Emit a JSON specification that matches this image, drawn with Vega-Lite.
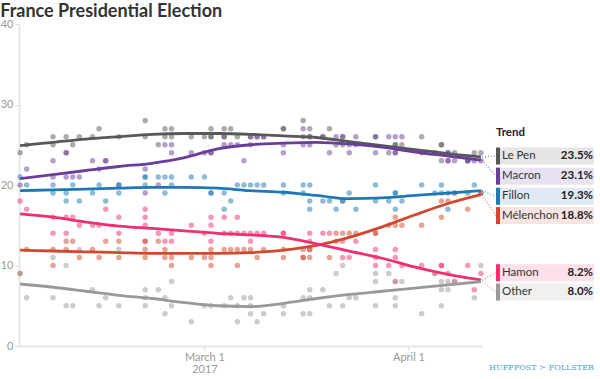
{
  "$schema": "https://vega.github.io/schema/vega-lite/v6.json",
  "padding": {"left": 0, "top": 3, "right": 0, "bottom": 0},
  "bounds": "flush",
  "spacing": 0,
  "title": {"text": "France Presidential Election", "anchor": "start", "font": "Lato", "fontSize": 18, "fontWeight": "bold", "color": "#333333", "offset": -3, "dx": 0},
  "config": {"view": {"stroke": null}, "font": "Lato"},
  "datasets": {
    "polls": [
      {"date":"2017-02-01","candidate":"Le Pen","value":24},{"date":"2017-02-02","candidate":"Le Pen","value":25},{"date":"2017-02-06","candidate":"Le Pen","value":26},{"date":"2017-02-06","candidate":"Le Pen","value":25},{"date":"2017-02-08","candidate":"Le Pen","value":26},{"date":"2017-02-08","candidate":"Le Pen","value":24},{"date":"2017-02-09","candidate":"Le Pen","value":25},{"date":"2017-02-10","candidate":"Le Pen","value":26},{"date":"2017-02-12","candidate":"Le Pen","value":26},{"date":"2017-02-13","candidate":"Le Pen","value":27},{"date":"2017-02-16","candidate":"Le Pen","value":26},{"date":"2017-02-20","candidate":"Le Pen","value":28},{"date":"2017-02-20","candidate":"Le Pen","value":26},{"date":"2017-02-22","candidate":"Le Pen","value":25},{"date":"2017-02-23","candidate":"Le Pen","value":27},{"date":"2017-02-23","candidate":"Le Pen","value":26},{"date":"2017-02-24","candidate":"Le Pen","value":27},{"date":"2017-02-24","candidate":"Le Pen","value":26},{"date":"2017-02-27","candidate":"Le Pen","value":26},{"date":"2017-03-01","candidate":"Le Pen","value":26},{"date":"2017-03-02","candidate":"Le Pen","value":27},{"date":"2017-03-02","candidate":"Le Pen","value":26},{"date":"2017-03-02","candidate":"Le Pen","value":26},{"date":"2017-03-04","candidate":"Le Pen","value":27},{"date":"2017-03-04","candidate":"Le Pen","value":26},{"date":"2017-03-05","candidate":"Le Pen","value":27},{"date":"2017-03-06","candidate":"Le Pen","value":26},{"date":"2017-03-08","candidate":"Le Pen","value":26},{"date":"2017-03-09","candidate":"Le Pen","value":26},{"date":"2017-03-10","candidate":"Le Pen","value":26},{"date":"2017-03-13","candidate":"Le Pen","value":27},{"date":"2017-03-13","candidate":"Le Pen","value":27},{"date":"2017-03-16","candidate":"Le Pen","value":28},{"date":"2017-03-16","candidate":"Le Pen","value":26},{"date":"2017-03-17","candidate":"Le Pen","value":27},{"date":"2017-03-17","candidate":"Le Pen","value":26},{"date":"2017-03-19","candidate":"Le Pen","value":26},{"date":"2017-03-20","candidate":"Le Pen","value":27},{"date":"2017-03-21","candidate":"Le Pen","value":25},{"date":"2017-03-22","candidate":"Le Pen","value":26},{"date":"2017-03-22","candidate":"Le Pen","value":25},{"date":"2017-03-23","candidate":"Le Pen","value":25},{"date":"2017-03-24","candidate":"Le Pen","value":25},{"date":"2017-03-27","candidate":"Le Pen","value":26},{"date":"2017-03-29","candidate":"Le Pen","value":24},{"date":"2017-03-30","candidate":"Le Pen","value":25},{"date":"2017-03-30","candidate":"Le Pen","value":25},{"date":"2017-03-31","candidate":"Le Pen","value":25},{"date":"2017-04-03","candidate":"Le Pen","value":26},{"date":"2017-04-06","candidate":"Le Pen","value":25},{"date":"2017-04-06","candidate":"Le Pen","value":25},{"date":"2017-04-06","candidate":"Le Pen","value":23},{"date":"2017-04-08","candidate":"Le Pen","value":24},{"date":"2017-04-10","candidate":"Le Pen","value":23},{"date":"2017-04-11","candidate":"Le Pen","value":24},{"date":"2017-04-12","candidate":"Le Pen","value":24},
      {"date":"2017-02-01","candidate":"Macron","value":20},{"date":"2017-02-02","candidate":"Macron","value":22},{"date":"2017-02-06","candidate":"Macron","value":23},{"date":"2017-02-06","candidate":"Macron","value":21},{"date":"2017-02-08","candidate":"Macron","value":24},{"date":"2017-02-08","candidate":"Macron","value":21},{"date":"2017-02-09","candidate":"Macron","value":21},{"date":"2017-02-10","candidate":"Macron","value":21},{"date":"2017-02-12","candidate":"Macron","value":23},{"date":"2017-02-13","candidate":"Macron","value":22},{"date":"2017-02-14","candidate":"Macron","value":23},{"date":"2017-02-14","candidate":"Macron","value":23},{"date":"2017-02-16","candidate":"Macron","value":20},{"date":"2017-02-20","candidate":"Macron","value":22},{"date":"2017-02-20","candidate":"Macron","value":19},{"date":"2017-02-22","candidate":"Macron","value":20},{"date":"2017-02-23","candidate":"Macron","value":25},{"date":"2017-02-24","candidate":"Macron","value":25},{"date":"2017-02-24","candidate":"Macron","value":24},{"date":"2017-02-27","candidate":"Macron","value":24},{"date":"2017-03-01","candidate":"Macron","value":24},{"date":"2017-03-02","candidate":"Macron","value":24},{"date":"2017-03-02","candidate":"Macron","value":24},{"date":"2017-03-04","candidate":"Macron","value":26},{"date":"2017-03-04","candidate":"Macron","value":25},{"date":"2017-03-05","candidate":"Macron","value":25},{"date":"2017-03-06","candidate":"Macron","value":25},{"date":"2017-03-07","candidate":"Macron","value":23},{"date":"2017-03-08","candidate":"Macron","value":26},{"date":"2017-03-08","candidate":"Macron","value":25},{"date":"2017-03-09","candidate":"Macron","value":26},{"date":"2017-03-10","candidate":"Macron","value":26},{"date":"2017-03-13","candidate":"Macron","value":25},{"date":"2017-03-13","candidate":"Macron","value":24},{"date":"2017-03-16","candidate":"Macron","value":27},{"date":"2017-03-16","candidate":"Macron","value":25},{"date":"2017-03-17","candidate":"Macron","value":26},{"date":"2017-03-17","candidate":"Macron","value":25},{"date":"2017-03-19","candidate":"Macron","value":26},{"date":"2017-03-20","candidate":"Macron","value":24},{"date":"2017-03-21","candidate":"Macron","value":26},{"date":"2017-03-22","candidate":"Macron","value":26},{"date":"2017-03-23","candidate":"Macron","value":24},{"date":"2017-03-24","candidate":"Macron","value":26},{"date":"2017-03-27","candidate":"Macron","value":26},{"date":"2017-03-27","candidate":"Macron","value":24},{"date":"2017-03-29","candidate":"Macron","value":26},{"date":"2017-03-30","candidate":"Macron","value":26},{"date":"2017-03-30","candidate":"Macron","value":24},{"date":"2017-03-30","candidate":"Macron","value":24},{"date":"2017-03-31","candidate":"Macron","value":26},{"date":"2017-04-03","candidate":"Macron","value":24},{"date":"2017-04-05","candidate":"Macron","value":24},{"date":"2017-04-07","candidate":"Macron","value":24},{"date":"2017-04-07","candidate":"Macron","value":24},{"date":"2017-04-07","candidate":"Macron","value":23},{"date":"2017-04-07","candidate":"Macron","value":23},{"date":"2017-04-08","candidate":"Macron","value":23},{"date":"2017-04-10","candidate":"Macron","value":23},{"date":"2017-04-10","candidate":"Macron","value":23},{"date":"2017-04-11","candidate":"Macron","value":23},{"date":"2017-04-12","candidate":"Macron","value":23},
      {"date":"2017-02-01","candidate":"Fillon","value":21},{"date":"2017-02-02","candidate":"Fillon","value":20},{"date":"2017-02-06","candidate":"Fillon","value":20},{"date":"2017-02-06","candidate":"Fillon","value":19},{"date":"2017-02-08","candidate":"Fillon","value":19},{"date":"2017-02-08","candidate":"Fillon","value":18},{"date":"2017-02-09","candidate":"Fillon","value":20},{"date":"2017-02-10","candidate":"Fillon","value":18},{"date":"2017-02-12","candidate":"Fillon","value":19},{"date":"2017-02-13","candidate":"Fillon","value":20},{"date":"2017-02-14","candidate":"Fillon","value":18},{"date":"2017-02-16","candidate":"Fillon","value":20},{"date":"2017-02-16","candidate":"Fillon","value":19},{"date":"2017-02-20","candidate":"Fillon","value":21},{"date":"2017-02-20","candidate":"Fillon","value":21},{"date":"2017-02-20","candidate":"Fillon","value":20},{"date":"2017-02-22","candidate":"Fillon","value":21},{"date":"2017-02-23","candidate":"Fillon","value":21},{"date":"2017-02-23","candidate":"Fillon","value":19},{"date":"2017-02-24","candidate":"Fillon","value":21},{"date":"2017-02-24","candidate":"Fillon","value":20},{"date":"2017-02-27","candidate":"Fillon","value":21},{"date":"2017-03-01","candidate":"Fillon","value":21},{"date":"2017-03-02","candidate":"Fillon","value":19},{"date":"2017-03-02","candidate":"Fillon","value":19},{"date":"2017-03-04","candidate":"Fillon","value":19},{"date":"2017-03-04","candidate":"Fillon","value":17},{"date":"2017-03-05","candidate":"Fillon","value":18},{"date":"2017-03-06","candidate":"Fillon","value":20},{"date":"2017-03-07","candidate":"Fillon","value":20},{"date":"2017-03-08","candidate":"Fillon","value":20},{"date":"2017-03-09","candidate":"Fillon","value":20},{"date":"2017-03-10","candidate":"Fillon","value":20},{"date":"2017-03-13","candidate":"Fillon","value":20},{"date":"2017-03-13","candidate":"Fillon","value":19},{"date":"2017-03-16","candidate":"Fillon","value":20},{"date":"2017-03-16","candidate":"Fillon","value":19},{"date":"2017-03-17","candidate":"Fillon","value":20},{"date":"2017-03-17","candidate":"Fillon","value":18},{"date":"2017-03-17","candidate":"Fillon","value":17},{"date":"2017-03-19","candidate":"Fillon","value":18},{"date":"2017-03-20","candidate":"Fillon","value":18},{"date":"2017-03-21","candidate":"Fillon","value":17},{"date":"2017-03-22","candidate":"Fillon","value":18},{"date":"2017-03-22","candidate":"Fillon","value":18},{"date":"2017-03-23","candidate":"Fillon","value":19},{"date":"2017-03-24","candidate":"Fillon","value":17},{"date":"2017-03-27","candidate":"Fillon","value":20},{"date":"2017-03-27","candidate":"Fillon","value":18},{"date":"2017-03-29","candidate":"Fillon","value":18},{"date":"2017-03-30","candidate":"Fillon","value":19},{"date":"2017-03-30","candidate":"Fillon","value":19},{"date":"2017-03-30","candidate":"Fillon","value":17},{"date":"2017-03-31","candidate":"Fillon","value":18},{"date":"2017-04-03","candidate":"Fillon","value":20},{"date":"2017-04-05","candidate":"Fillon","value":19},{"date":"2017-04-06","candidate":"Fillon","value":20},{"date":"2017-04-06","candidate":"Fillon","value":19},{"date":"2017-04-07","candidate":"Fillon","value":19},{"date":"2017-04-07","candidate":"Fillon","value":17},{"date":"2017-04-08","candidate":"Fillon","value":19},{"date":"2017-04-10","candidate":"Fillon","value":19},{"date":"2017-04-11","candidate":"Fillon","value":20},{"date":"2017-04-12","candidate":"Fillon","value":19},
      {"date":"2017-02-01","candidate":"Hamon","value":18},{"date":"2017-02-02","candidate":"Hamon","value":17},{"date":"2017-02-06","candidate":"Hamon","value":16},{"date":"2017-02-06","candidate":"Hamon","value":14},{"date":"2017-02-08","candidate":"Hamon","value":16},{"date":"2017-02-08","candidate":"Hamon","value":14},{"date":"2017-02-09","candidate":"Hamon","value":16},{"date":"2017-02-10","candidate":"Hamon","value":15},{"date":"2017-02-12","candidate":"Hamon","value":15},{"date":"2017-02-13","candidate":"Hamon","value":15},{"date":"2017-02-14","candidate":"Hamon","value":17},{"date":"2017-02-16","candidate":"Hamon","value":16},{"date":"2017-02-16","candidate":"Hamon","value":14},{"date":"2017-02-20","candidate":"Hamon","value":17},{"date":"2017-02-20","candidate":"Hamon","value":16},{"date":"2017-02-20","candidate":"Hamon","value":15},{"date":"2017-02-20","candidate":"Hamon","value":13},{"date":"2017-02-22","candidate":"Hamon","value":14},{"date":"2017-02-23","candidate":"Hamon","value":13},{"date":"2017-02-24","candidate":"Hamon","value":14},{"date":"2017-02-24","candidate":"Hamon","value":13},{"date":"2017-02-27","candidate":"Hamon","value":15},{"date":"2017-03-01","candidate":"Hamon","value":14},{"date":"2017-03-02","candidate":"Hamon","value":16},{"date":"2017-03-02","candidate":"Hamon","value":15},{"date":"2017-03-02","candidate":"Hamon","value":13},{"date":"2017-03-04","candidate":"Hamon","value":16},{"date":"2017-03-04","candidate":"Hamon","value":14},{"date":"2017-03-05","candidate":"Hamon","value":14},{"date":"2017-03-06","candidate":"Hamon","value":16},{"date":"2017-03-06","candidate":"Hamon","value":14},{"date":"2017-03-07","candidate":"Hamon","value":14},{"date":"2017-03-08","candidate":"Hamon","value":14},{"date":"2017-03-08","candidate":"Hamon","value":13},{"date":"2017-03-09","candidate":"Hamon","value":14},{"date":"2017-03-10","candidate":"Hamon","value":14},{"date":"2017-03-13","candidate":"Hamon","value":14},{"date":"2017-03-13","candidate":"Hamon","value":14},{"date":"2017-03-17","candidate":"Hamon","value":14},{"date":"2017-03-17","candidate":"Hamon","value":13},{"date":"2017-03-19","candidate":"Hamon","value":14},{"date":"2017-03-20","candidate":"Hamon","value":14},{"date":"2017-03-21","candidate":"Hamon","value":13},{"date":"2017-03-22","candidate":"Hamon","value":13},{"date":"2017-03-22","candidate":"Hamon","value":11},{"date":"2017-03-23","candidate":"Hamon","value":11},{"date":"2017-03-24","candidate":"Hamon","value":13},{"date":"2017-03-27","candidate":"Hamon","value":12},{"date":"2017-03-27","candidate":"Hamon","value":11},{"date":"2017-03-27","candidate":"Hamon","value":10},{"date":"2017-03-29","candidate":"Hamon","value":10},{"date":"2017-03-30","candidate":"Hamon","value":12},{"date":"2017-03-30","candidate":"Hamon","value":11},{"date":"2017-03-30","candidate":"Hamon","value":8},{"date":"2017-03-31","candidate":"Hamon","value":10},{"date":"2017-04-03","candidate":"Hamon","value":10},{"date":"2017-04-05","candidate":"Hamon","value":9},{"date":"2017-04-06","candidate":"Hamon","value":10},{"date":"2017-04-06","candidate":"Hamon","value":10},{"date":"2017-04-07","candidate":"Hamon","value":9},{"date":"2017-04-08","candidate":"Hamon","value":8},{"date":"2017-04-10","candidate":"Hamon","value":10},{"date":"2017-04-11","candidate":"Hamon","value":7},{"date":"2017-04-12","candidate":"Hamon","value":9},
      {"date":"2017-02-01","candidate":"Mélenchon","value":9},{"date":"2017-02-02","candidate":"Mélenchon","value":12},{"date":"2017-02-06","candidate":"Mélenchon","value":12},{"date":"2017-02-06","candidate":"Mélenchon","value":10},{"date":"2017-02-08","candidate":"Mélenchon","value":13},{"date":"2017-02-08","candidate":"Mélenchon","value":12},{"date":"2017-02-09","candidate":"Mélenchon","value":13},{"date":"2017-02-10","candidate":"Mélenchon","value":11},{"date":"2017-02-12","candidate":"Mélenchon","value":12},{"date":"2017-02-13","candidate":"Mélenchon","value":11},{"date":"2017-02-14","candidate":"Mélenchon","value":13},{"date":"2017-02-16","candidate":"Mélenchon","value":13},{"date":"2017-02-16","candidate":"Mélenchon","value":11},{"date":"2017-02-20","candidate":"Mélenchon","value":13},{"date":"2017-02-20","candidate":"Mélenchon","value":12},{"date":"2017-02-20","candidate":"Mélenchon","value":11},{"date":"2017-02-22","candidate":"Mélenchon","value":13},{"date":"2017-02-23","candidate":"Mélenchon","value":12},{"date":"2017-02-23","candidate":"Mélenchon","value":11},{"date":"2017-02-24","candidate":"Mélenchon","value":11},{"date":"2017-02-24","candidate":"Mélenchon","value":10},{"date":"2017-02-27","candidate":"Mélenchon","value":11},{"date":"2017-03-01","candidate":"Mélenchon","value":11},{"date":"2017-03-02","candidate":"Mélenchon","value":12},{"date":"2017-03-02","candidate":"Mélenchon","value":11},{"date":"2017-03-02","candidate":"Mélenchon","value":10},{"date":"2017-03-04","candidate":"Mélenchon","value":12},{"date":"2017-03-05","candidate":"Mélenchon","value":12},{"date":"2017-03-06","candidate":"Mélenchon","value":12},{"date":"2017-03-06","candidate":"Mélenchon","value":10},{"date":"2017-03-07","candidate":"Mélenchon","value":12},{"date":"2017-03-08","candidate":"Mélenchon","value":12},{"date":"2017-03-09","candidate":"Mélenchon","value":11},{"date":"2017-03-10","candidate":"Mélenchon","value":12},{"date":"2017-03-13","candidate":"Mélenchon","value":12},{"date":"2017-03-13","candidate":"Mélenchon","value":11},{"date":"2017-03-16","candidate":"Mélenchon","value":12},{"date":"2017-03-16","candidate":"Mélenchon","value":11},{"date":"2017-03-16","candidate":"Mélenchon","value":11},{"date":"2017-03-17","candidate":"Mélenchon","value":12},{"date":"2017-03-17","candidate":"Mélenchon","value":12},{"date":"2017-03-17","candidate":"Mélenchon","value":11},{"date":"2017-03-20","candidate":"Mélenchon","value":11},{"date":"2017-03-21","candidate":"Mélenchon","value":14},{"date":"2017-03-22","candidate":"Mélenchon","value":14},{"date":"2017-03-23","candidate":"Mélenchon","value":14},{"date":"2017-03-24","candidate":"Mélenchon","value":14},{"date":"2017-03-27","candidate":"Mélenchon","value":14},{"date":"2017-03-27","candidate":"Mélenchon","value":14},{"date":"2017-03-29","candidate":"Mélenchon","value":15},{"date":"2017-03-30","candidate":"Mélenchon","value":16},{"date":"2017-03-30","candidate":"Mélenchon","value":15},{"date":"2017-03-31","candidate":"Mélenchon","value":15},{"date":"2017-04-03","candidate":"Mélenchon","value":15},{"date":"2017-04-06","candidate":"Mélenchon","value":18},{"date":"2017-04-06","candidate":"Mélenchon","value":16},{"date":"2017-04-07","candidate":"Mélenchon","value":18},{"date":"2017-04-08","candidate":"Mélenchon","value":19},{"date":"2017-04-10","candidate":"Mélenchon","value":17},{"date":"2017-04-12","candidate":"Mélenchon","value":19},
      {"date":"2017-02-01","candidate":"Other","value":9},{"date":"2017-02-02","candidate":"Other","value":6},{"date":"2017-02-06","candidate":"Other","value":11},{"date":"2017-02-06","candidate":"Other","value":6},{"date":"2017-02-08","candidate":"Other","value":10},{"date":"2017-02-08","candidate":"Other","value":5},{"date":"2017-02-09","candidate":"Other","value":5},{"date":"2017-02-10","candidate":"Other","value":12},{"date":"2017-02-12","candidate":"Other","value":7},{"date":"2017-02-13","candidate":"Other","value":5},{"date":"2017-02-14","candidate":"Other","value":6},{"date":"2017-02-16","candidate":"Other","value":12},{"date":"2017-02-16","candidate":"Other","value":5},{"date":"2017-02-20","candidate":"Other","value":7},{"date":"2017-02-20","candidate":"Other","value":6},{"date":"2017-02-20","candidate":"Other","value":5},{"date":"2017-02-22","candidate":"Other","value":7},{"date":"2017-02-23","candidate":"Other","value":6},{"date":"2017-02-23","candidate":"Other","value":4},{"date":"2017-02-24","candidate":"Other","value":8},{"date":"2017-02-24","candidate":"Other","value":5},{"date":"2017-02-27","candidate":"Other","value":3},{"date":"2017-03-01","candidate":"Other","value":5},{"date":"2017-03-02","candidate":"Other","value":5},{"date":"2017-03-04","candidate":"Other","value":5},{"date":"2017-03-05","candidate":"Other","value":6},{"date":"2017-03-06","candidate":"Other","value":5},{"date":"2017-03-06","candidate":"Other","value":3},{"date":"2017-03-07","candidate":"Other","value":6},{"date":"2017-03-08","candidate":"Other","value":6},{"date":"2017-03-08","candidate":"Other","value":5},{"date":"2017-03-08","candidate":"Other","value":4},{"date":"2017-03-09","candidate":"Other","value":3},{"date":"2017-03-10","candidate":"Other","value":4},{"date":"2017-03-13","candidate":"Other","value":5},{"date":"2017-03-13","candidate":"Other","value":4},{"date":"2017-03-16","candidate":"Other","value":6},{"date":"2017-03-16","candidate":"Other","value":4},{"date":"2017-03-17","candidate":"Other","value":7},{"date":"2017-03-17","candidate":"Other","value":6},{"date":"2017-03-17","candidate":"Other","value":4},{"date":"2017-03-19","candidate":"Other","value":7},{"date":"2017-03-20","candidate":"Other","value":5},{"date":"2017-03-21","candidate":"Other","value":9},{"date":"2017-03-22","candidate":"Other","value":10},{"date":"2017-03-22","candidate":"Other","value":5},{"date":"2017-03-23","candidate":"Other","value":6},{"date":"2017-03-24","candidate":"Other","value":6},{"date":"2017-03-27","candidate":"Other","value":9},{"date":"2017-03-27","candidate":"Other","value":8},{"date":"2017-03-27","candidate":"Other","value":5},{"date":"2017-03-29","candidate":"Other","value":9},{"date":"2017-03-30","candidate":"Other","value":8},{"date":"2017-03-30","candidate":"Other","value":6},{"date":"2017-03-30","candidate":"Other","value":5},{"date":"2017-03-31","candidate":"Other","value":8},{"date":"2017-04-03","candidate":"Other","value":4},{"date":"2017-04-05","candidate":"Other","value":9},{"date":"2017-04-06","candidate":"Other","value":8},{"date":"2017-04-06","candidate":"Other","value":7},{"date":"2017-04-06","candidate":"Other","value":5},{"date":"2017-04-07","candidate":"Other","value":8},{"date":"2017-04-07","candidate":"Other","value":7},{"date":"2017-04-08","candidate":"Other","value":8},{"date":"2017-04-11","candidate":"Other","value":6},{"date":"2017-04-12","candidate":"Other","value":10}
    ],
    "trend": [
      {"date":"2017-02-01","Le Pen":24.9,"Macron":20.8,"Fillon":19.3,"Mélenchon":11.9,"Hamon":16.4,"Other":7.7},
      {"date":"2017-02-06","Le Pen":25.3,"Macron":21.3,"Fillon":19.4,"Mélenchon":11.8,"Hamon":16.0,"Other":7.3},
      {"date":"2017-02-11","Le Pen":25.7,"Macron":21.8,"Fillon":19.5,"Mélenchon":11.7,"Hamon":15.4,"Other":6.8},
      {"date":"2017-02-16","Le Pen":26.0,"Macron":22.3,"Fillon":19.6,"Mélenchon":11.6,"Hamon":14.9,"Other":6.3},
      {"date":"2017-02-21","Le Pen":26.3,"Macron":22.7,"Fillon":19.7,"Mélenchon":11.5,"Hamon":14.6,"Other":5.9},
      {"date":"2017-02-26","Le Pen":26.4,"Macron":23.4,"Fillon":19.7,"Mélenchon":11.5,"Hamon":14.3,"Other":5.4},
      {"date":"2017-03-03","Le Pen":26.4,"Macron":24.5,"Fillon":19.6,"Mélenchon":11.5,"Hamon":14.0,"Other":5.0},
      {"date":"2017-03-08","Le Pen":26.3,"Macron":25.0,"Fillon":19.3,"Mélenchon":11.6,"Hamon":13.8,"Other":4.9},
      {"date":"2017-03-13","Le Pen":26.1,"Macron":25.2,"Fillon":19.1,"Mélenchon":11.9,"Hamon":13.5,"Other":5.3},
      {"date":"2017-03-18","Le Pen":25.9,"Macron":25.3,"Fillon":18.7,"Mélenchon":12.5,"Hamon":12.7,"Other":5.9},
      {"date":"2017-03-23","Le Pen":25.4,"Macron":25.1,"Fillon":18.3,"Mélenchon":13.5,"Hamon":11.8,"Other":6.4},
      {"date":"2017-03-28","Le Pen":24.9,"Macron":24.7,"Fillon":18.4,"Mélenchon":14.8,"Hamon":10.9,"Other":6.8},
      {"date":"2017-04-02","Le Pen":24.4,"Macron":24.1,"Fillon":18.7,"Mélenchon":16.3,"Hamon":9.8,"Other":7.2},
      {"date":"2017-04-07","Le Pen":23.9,"Macron":23.6,"Fillon":19.0,"Mélenchon":17.7,"Hamon":8.9,"Other":7.6},
      {"date":"2017-04-12","Le Pen":23.5,"Macron":23.1,"Fillon":19.3,"Mélenchon":18.8,"Hamon":8.2,"Other":8.0}
    ],
    "legend": [
      {"candidate":"Le Pen","trend":23.5,"label":"23.5%","slot":23.6},
      {"candidate":"Macron","trend":23.1,"label":"23.1%","slot":21.1},
      {"candidate":"Fillon","trend":19.3,"label":"19.3%","slot":18.6},
      {"candidate":"Mélenchon","trend":18.8,"label":"18.8%","slot":16.2},
      {"candidate":"Hamon","trend":8.2,"label":"8.2%","slot":9.1},
      {"candidate":"Other","trend":8.0,"label":"8.0%","slot":6.7}
    ]
  },
  "hconcat": [
    {
      "width": 463,
      "height": 322,
      "layer": [
        {
          "data": {"name": "polls"},
          "mark": {"type": "circle", "size": 30, "opacity": 0.5},
          "encoding": {
            "x": {"field": "date", "type": "temporal",
              "scale": {"type": "utc", "domain": [{"year": 2017, "month": 1, "date": 31, "hours": 20, "utc": true}, {"year": 2017, "month": 4, "date": 12, "hours": 4, "utc": true}]},
              "axis": {"title": null, "grid": false, "values": [{"year": 2017, "month": 3, "date": 1, "utc": true}, {"year": 2017, "month": 4, "date": 1, "utc": true}],
                "labelExpr": "utcmonth(datum.value) == 2 ? [utcFormat(datum.value, '%B %-d'), '2017'] : utcFormat(datum.value, '%B %-d')",
                "domainColor": "#e6e6e6", "domainWidth": 2, "tickColor": "#dddddd", "tickSize": 4, "labelColor": "#999999", "labelFontSize": 11, "labelFont": "Lato", "labelPadding": 1, "labelLineHeight": 12}},
            "y": {"field": "value", "type": "quantitative", "scale": {"domain": [0, 40], "nice": false},
              "axis": {"title": null, "grid": false, "values": [0, 10, 20, 30, 40], "domainColor": "#e6e6e6", "domainWidth": 2, "tickColor": "#dddddd", "tickSize": 4, "labelColor": "#999999", "labelFontSize": 11, "labelFont": "Lato", "labelPadding": 2}},
            "color": {"field": "candidate", "type": "nominal", "legend": null,
              "scale": {"domain": ["Le Pen", "Macron", "Fillon", "Mélenchon", "Hamon", "Other"], "range": ["#585858", "#6a3d9a", "#1f78b4", "#d0492e", "#f0306e", "#999999"]}}
          }
        },
        {
          "data": {"name": "trend"},
          "transform": [{"fold": ["Le Pen", "Macron", "Fillon", "Mélenchon", "Hamon", "Other"], "as": ["candidate", "value"]}],
          "mark": {"type": "line", "strokeWidth": 2.8, "interpolate": "monotone"},
          "encoding": {
            "x": {"field": "date", "type": "temporal"},
            "y": {"field": "value", "type": "quantitative"},
            "color": {"field": "candidate", "type": "nominal", "legend": null}
          }
        }
      ]
    },
    {
      "width": 112,
      "height": 322,
      "data": {"name": "legend"},
      "layer": [
        {
          "mark": {"type": "rule", "strokeDash": [1, 2], "strokeWidth": 1.2, "opacity": 0.7},
          "encoding": {
            "x": {"datum": 0, "type": "quantitative", "scale": {"domain": [0, 112], "nice": false}, "axis": null},
            "x2": {"datum": 14},
            "y": {"field": "trend", "type": "quantitative", "scale": {"domain": [0, 40], "nice": false}, "axis": null},
            "y2": {"field": "slot"},
            "color": {"field": "candidate", "type": "nominal", "legend": null,
              "scale": {"domain": ["Le Pen", "Macron", "Fillon", "Mélenchon", "Hamon", "Other"], "range": ["#585858", "#6a3d9a", "#1f78b4", "#d0492e", "#f0306e", "#999999"]}}
          }
        },
        {
          "mark": {"type": "rule", "strokeWidth": 17, "opacity": 0.15},
          "encoding": {
            "x": {"datum": 14, "type": "quantitative"},
            "x2": {"datum": 112},
            "y": {"field": "slot", "type": "quantitative"},
            "color": {"field": "candidate", "type": "nominal", "legend": null}
          }
        },
        {
          "mark": {"type": "rule", "strokeWidth": 17},
          "encoding": {
            "x": {"datum": 14, "type": "quantitative"},
            "x2": {"datum": 18},
            "y": {"field": "slot", "type": "quantitative"},
            "color": {"field": "candidate", "type": "nominal", "legend": null}
          }
        },
        {
          "mark": {"type": "text", "align": "left", "baseline": "middle", "fontSize": 11.5, "font": "Lato", "color": "#333333"},
          "encoding": {
            "x": {"datum": 20, "type": "quantitative"},
            "y": {"field": "slot", "type": "quantitative"},
            "text": {"field": "candidate"}
          }
        },
        {
          "mark": {"type": "text", "align": "right", "baseline": "middle", "fontSize": 11.5, "font": "Lato", "fontWeight": "bold", "color": "#222222"},
          "encoding": {
            "x": {"datum": 111, "type": "quantitative"},
            "y": {"field": "slot", "type": "quantitative"},
            "text": {"field": "label"}
          }
        },
        {
          "data": {"values": [{"heading": "Trend"}]},
          "mark": {"type": "text", "align": "left", "baseline": "middle", "fontSize": 11.5, "font": "Lato", "fontWeight": "bold", "color": "#222222"},
          "encoding": {
            "x": {"datum": 14, "type": "quantitative"},
            "y": {"datum": 26.4, "type": "quantitative"},
            "text": {"field": "heading"}
          }
        },
        {
          "data": {"values": [{"brand": "HUFFPOST ≻ POLLSTER"}]},
          "mark": {"type": "text", "align": "right", "baseline": "middle", "fontSize": 8, "font": "DejaVu Serif", "color": "#4aa4d3"},
          "encoding": {
            "x": {"datum": 112, "type": "quantitative"},
            "y": {"datum": -2.7, "type": "quantitative"},
            "text": {"field": "brand"}
          }
        }
      ]
    }
  ]
}
